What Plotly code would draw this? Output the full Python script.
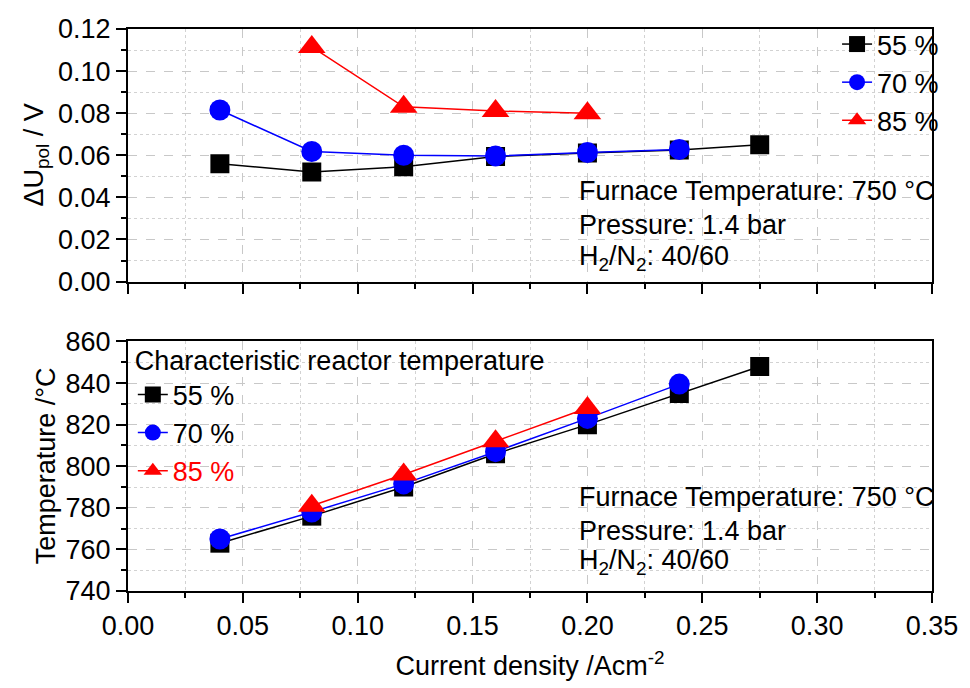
import plotly.graph_objects as go

# ---------------- data ----------------
x55 = [0.04, 0.08, 0.12, 0.16, 0.20, 0.24, 0.275]
x70 = [0.04, 0.08, 0.12, 0.16, 0.20, 0.24]
x85 = [0.08, 0.12, 0.16, 0.20]

du55 = [0.056, 0.052, 0.0545, 0.0594, 0.0611, 0.0625, 0.065]
du70 = [0.0815, 0.0618, 0.0600, 0.0597, 0.0613, 0.0628]
du85 = [0.1115, 0.083, 0.081, 0.080]

t55 = [763, 776, 790, 806, 820, 835, 848]
t70 = [765, 778, 791.5, 807, 823, 839.5]
t85 = [781, 796, 812, 828]

labels = ["55 %", "70 %", "85 %"]
colors = ["#000000", "#0000FF", "#FF0000"]
symbols = ["square", "circle", "triangle-up"]
sizes = [19, 21, 24]

info_lines = ["Furnace Temperature: 750 °C", "Pressure: 1.4 bar",
              "H<sub>2</sub>/N<sub>2</sub>: 40/60"]

FONT = "Liberation Sans, Arial, sans-serif"
FS = 27

fig = go.Figure()

top_series = [(x55, du55), (x70, du70), (x85, du85)]
bot_series = [(x55, t55), (x70, t70), (x85, t85)]

for i, (xs, ys) in enumerate(top_series):
    fig.add_trace(go.Scatter(
        x=xs, y=ys, mode="lines+markers", name=labels[i],
        line=dict(color=colors[i], width=1.5),
        marker=dict(symbol=symbols[i], size=sizes[i], color=colors[i], line=dict(width=0)),
        xaxis="x", yaxis="y", legend="legend"))

for i, (xs, ys) in enumerate(bot_series):
    name = labels[i] if i < 2 else "<span style='color:#FF0000'>%s</span>" % labels[i]
    fig.add_trace(go.Scatter(
        x=xs, y=ys, mode="lines+markers", name=name,
        line=dict(color=colors[i], width=1.5),
        marker=dict(symbol=symbols[i], size=sizes[i], color=colors[i], line=dict(width=0)),
        xaxis="x2", yaxis="y2", legend="legend2"))

grid_major = dict(showgrid=True, gridcolor="#C8C8C8", gridwidth=1, griddash="dash")

def xax(show_labels, **kw):
    d = dict(range=[0, 0.35], dtick=0.05, tick0=0, tickformat=".2f",
             showline=True, linecolor="black", linewidth=2, mirror=True,
             ticks="outside", ticklen=10, tickwidth=1.5, tickcolor="black",
             showticklabels=show_labels, zeroline=False,
             tickfont=dict(family=FONT, size=FS, color="black"),
             minor=dict(dtick=0.025, ticks="outside", ticklen=5, tickwidth=1.5,
                        tickcolor="black", showgrid=True, gridcolor="#D2D2D2",
                        griddash="dot", gridwidth=1),
             **grid_major)
    d.update(kw)
    return d

def yax(rng, dt, mdt, fmt, **kw):
    d = dict(range=rng, dtick=dt, tick0=rng[0], tickformat=fmt,
             showline=True, linecolor="black", linewidth=2, mirror=True,
             ticks="outside", ticklen=10, tickwidth=1.5, tickcolor="black",
             zeroline=False,
             tickfont=dict(family=FONT, size=FS, color="black"),
             minor=dict(dtick=mdt, ticks="outside", ticklen=5, tickwidth=1.5,
                        tickcolor="black", showgrid=True, gridcolor="#D2D2D2",
                        griddash="dot", gridwidth=1),
             **grid_major)
    d.update(kw)
    return d

annotations = []
for j, (yy) in enumerate([0.36, 0.225, 0.095]):
    annotations.append(dict(text=info_lines[j], xref="x domain", yref="y domain",
                            x=0.558, y=yy, xanchor="left", yanchor="middle",
                            showarrow=False, font=dict(family=FONT, size=FS, color="black")))
for j, (yy) in enumerate([0.376, 0.24, 0.116]):
    annotations.append(dict(text=info_lines[j], xref="x2 domain", yref="y2 domain",
                            x=0.558, y=yy, xanchor="left", yanchor="middle",
                            showarrow=False, font=dict(family=FONT, size=FS, color="black")))

# y-axis titles as rotated annotations for precise placement
annotations.append(dict(text="ΔU<sub>pol</sub> / V", textangle=-90, xref="paper", yref="y domain",
                        x=(35 - 128) / 815, y=0.5, xanchor="center", yanchor="middle",
                        showarrow=False, font=dict(family=FONT, size=FS, color="black")))
annotations.append(dict(text="Temperature /°C", textangle=-90, xref="paper", yref="y2 domain",
                        x=(45 - 128) / 815, y=0.5, xanchor="center", yanchor="middle",
                        showarrow=False, font=dict(family=FONT, size=FS, color="black")))

fig.update_layout(
    width=970, height=688,
    margin=dict(l=128, r=27, t=29, b=96),
    paper_bgcolor="white", plot_bgcolor="white",
    font=dict(family=FONT, size=FS, color="black"),
    xaxis=xax(False, domain=[0, 1], anchor="y"),
    yaxis=yax([0, 0.12], 0.02, 0.01, ".2f", domain=[0.5506, 1], anchor="x"),
    xaxis2=xax(True, domain=[0, 1], anchor="y2",
               title=dict(text="Current density /Acm<sup>-2</sup>", standoff=16,
                          font=dict(family=FONT, size=FS, color="black"))),
    yaxis2=yax([740, 860], 20, 10, "d", domain=[0, 0.444], anchor="x2"),
    legend=dict(x=1.015, y=1.016, xanchor="right", yanchor="top", bgcolor="rgba(0,0,0,0)",
                font=dict(family=FONT, size=FS, color="black"), tracegroupgap=0,
                itemsizing="trace"),
    legend2=dict(x=0.006, y=0.455, xanchor="left", yanchor="top", bgcolor="rgba(0,0,0,0)",
                 font=dict(family=FONT, size=FS, color="black"),
                 title=dict(text="Characteristic reactor temperature", side="top",
                            font=dict(family=FONT, size=FS, color="black")),
                 itemsizing="trace"),
    annotations=annotations,
    showlegend=True,
)

fig.write_html("out.html")
